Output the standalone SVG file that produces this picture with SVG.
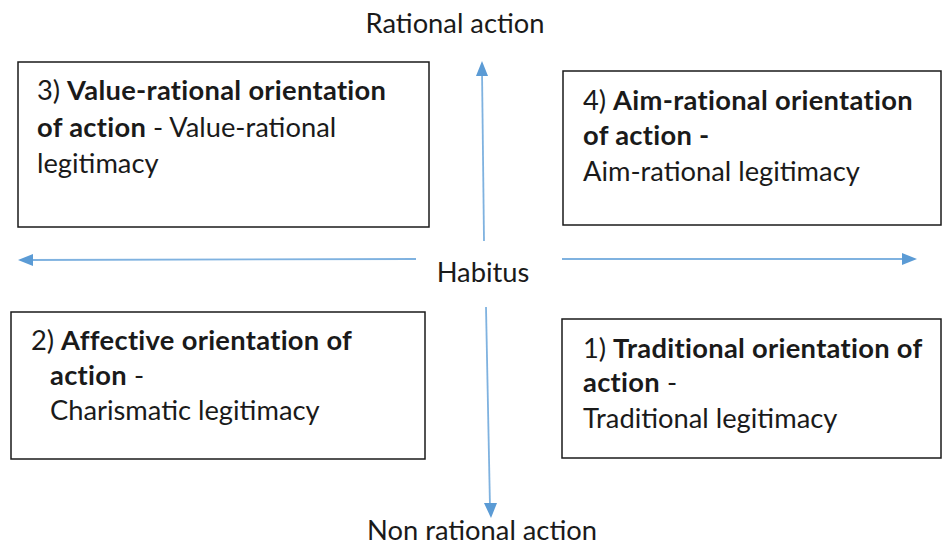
<svg xmlns="http://www.w3.org/2000/svg" width="944" height="546" viewBox="0 0 944 546">
<defs>
<style>
text{font-family:Lato,"Open Sans","Liberation Sans",sans-serif;font-size:27.3px;fill:#1a1a1a}
.b{font-weight:bold;letter-spacing:0.3px}
.box{fill:#fff;stroke:#1a1a1a;stroke-width:1.5}
.ax{stroke:#7fb2e0;stroke-width:1.8;fill:none}
.head{fill:#5b9bd5}
</style>
</defs>
<rect width="944" height="546" fill="#fff"/>
<g id="connectors">
<line class="ax" x1="484" y1="241" x2="482" y2="70"/>
<path class="head" d="M476,76 L482,61 L488,76 z"/>
<line class="ax" x1="416" y1="259" x2="28" y2="260"/>
<path class="head" d="M33,254 L18,260 L33,266 z"/>
<line class="ax" x1="562" y1="259" x2="906" y2="259"/>
<path class="head" d="M902,253 L917,259 L902,265 z"/>
<line class="ax" x1="486" y1="307" x2="490" y2="508"/>
<path class="head" d="M484,503 L491,518 L497,503 z"/>
</g>
<g id="label-rational"><text x="455" y="33" text-anchor="middle">Rational action</text></g>
<g id="label-habitus"><text x="483" y="282" text-anchor="middle">Habitus</text></g>
<g id="label-nonrational"><text x="482" y="540" text-anchor="middle">Non rational action</text></g>
<g id="box3">
<rect class="box" x="18" y="62" width="411" height="165"/>
<text x="37" y="100">3) <tspan class="b">Value-rational orientation</tspan></text>
<text x="37" y="137"><tspan class="b">of action</tspan> - Value-rational</text>
<text x="37" y="173">legitimacy</text>
</g>
<g id="box4">
<rect class="box" x="563" y="71" width="378" height="154"/>
<text x="583" y="110">4) <tspan class="b">Aim-rational orientation</tspan></text>
<text x="583" y="145" class="b">of action -</text>
<text x="583" y="181">Aim-rational legitimacy</text>
</g>
<g id="box2">
<rect class="box" x="11" y="312" width="414" height="147"/>
<text x="31" y="350">2) <tspan class="b">Affective orientation of</tspan></text>
<text x="50" y="385"><tspan class="b">action</tspan> -</text>
<text x="50" y="420">Charismatic legitimacy</text>
</g>
<g id="box1">
<rect class="box" x="562" y="319" width="379" height="139"/>
<text x="583" y="358">1) <tspan class="b">Traditional orientation of</tspan></text>
<text x="583" y="392"><tspan class="b">action</tspan> -</text>
<text x="583" y="428">Traditional legitimacy</text>
</g>
</svg>
